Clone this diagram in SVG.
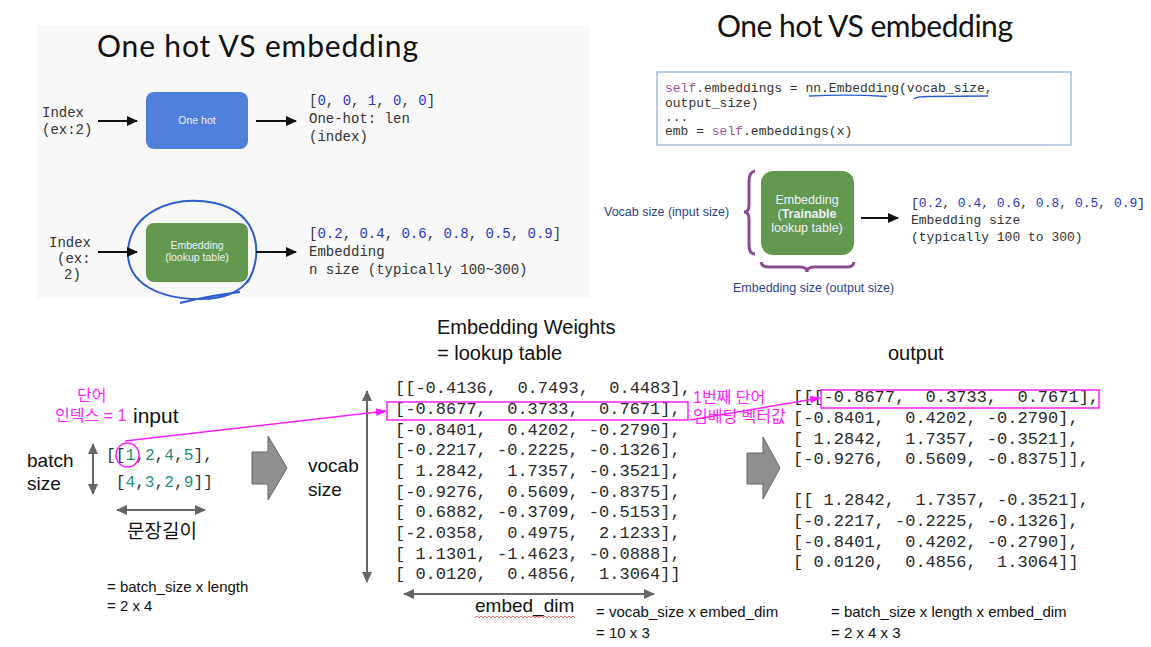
<svg xmlns="http://www.w3.org/2000/svg" width="1151" height="647" viewBox="0 0 1151 647">
<style>
.title{font-family:Lato,"Open Sans",sans-serif;font-size:30px;fill:#111}
.mono{font-family:"Liberation Mono","DejaVu Sans Mono",monospace}
.m14{font-size:14px;fill:#333}
.m13{font-size:13px;fill:#333}
.m17{font-size:17px;fill:#2a2a2a;font-family:"Liberation Mono","DejaVu Sans Mono",monospace;white-space:pre}
.num{fill:#2a35c8}
.teal{fill:#1f8f7d}
.self{fill:#a0529a}
.sans{font-family:"Liberation Sans",Arial,sans-serif}
.box{font-family:"Liberation Sans",Arial,sans-serif;fill:#eef2fa;text-anchor:middle}
.lbl{font-family:"Liberation Sans",Arial,sans-serif;font-size:19px;fill:#111}
.eq{font-family:"Liberation Sans",Arial,sans-serif;font-size:15px;fill:#111}
.kr{font-family:"Liberation Sans","Noto Sans CJK KR",sans-serif;font-size:16px;fill:#ff1eff}
.blk{stroke:#111;stroke-width:2;fill:none}
.gry{stroke:#666;stroke-width:2;fill:none}
.mag{stroke:#ff1eff;stroke-width:1.5;fill:none}
.blockarrow{fill:#8f8f8f;stroke:#666;stroke-width:1}
</style>
<defs>
<marker id="ahBlack" markerUnits="userSpaceOnUse" markerWidth="12" markerHeight="12" refX="10" refY="6" orient="auto"><path d="M0,1 L11,6 L0,11 Z" fill="#111"/></marker>
<marker id="ahGray" markerUnits="userSpaceOnUse" markerWidth="12" markerHeight="12" refX="10" refY="6" orient="auto-start-reverse"><path d="M0,1 L11,6 L0,11 Z" fill="#666"/></marker>
<marker id="ahMag" markerUnits="userSpaceOnUse" markerWidth="12" markerHeight="12" refX="10" refY="6" orient="auto"><path d="M0,2 L11,6 L0,10 Z" fill="#ff1eff"/></marker>
</defs>

<!-- top-left panel background -->
<rect x="37" y="25" width="553" height="273" fill="#f8f8f8"/>
<text class="title" x="97" y="57" font-size="31" textLength="321">One hot VS embedding</text>

<g id="onehot-input">
<text class="mono m14" x="42" y="117">Index</text>
<text class="mono m14" x="42" y="134">(ex:2)</text>
</g>
<g id="onehot-box">
<rect x="146" y="92" width="102" height="57" rx="8" fill="#4f80dc"/>
<text class="box" x="197" y="124" font-size="10.5">One hot</text>
</g>
<g id="onehot-output">
<text class="mono m14" x="309" y="105">[<tspan class="num">0</tspan>, <tspan class="num">0</tspan>, <tspan class="num">1</tspan>, <tspan class="num">0</tspan>, <tspan class="num">0</tspan>]</text>
<text class="mono m14" x="309" y="123">One-hot: len</text>
<text class="mono m14" x="309" y="141">(index)</text>
</g>

<g id="emb-input">
<text class="mono m14" x="49" y="247">Index</text>
<text class="mono m14" x="57" y="263">(ex:</text>
<text class="mono m14" x="64" y="279">2)</text>
</g>
<g id="emb-box">
<rect x="146" y="223" width="102" height="59" rx="8" fill="#62994f"/>
<text class="box" x="197" y="249" font-size="10.5">Embedding</text>
<text class="box" x="197" y="261" font-size="10.5">(lookup table)</text>
<path d="M247,283 C263,258 262,214 215,203 C170,194 131,214 128,250 C126,284 160,299 200,299 C224,299 240,293 249,279 M180,303 C200,298 222,294 240,292" fill="none" stroke="#2c5ccf" stroke-width="2"/>
</g>
<g id="emb-output">
<text class="mono m14" x="309" y="238">[<tspan class="num">0.2</tspan>, <tspan class="num">0.4</tspan>, <tspan class="num">0.6</tspan>, <tspan class="num">0.8</tspan>, <tspan class="num">0.5</tspan>, <tspan class="num">0.9</tspan>]</text>
<text class="mono m14" x="309" y="256">Embedding</text>
<text class="mono m14" x="309" y="274">n size (typically 100~300)</text>
</g>

<!-- top-right -->
<text class="title" x="717" y="37" font-size="29" textLength="296">One hot VS embedding</text>
<g id="code">
<rect x="657" y="72" width="414" height="73" fill="#fff" stroke="#8eaad6" stroke-width="1.2"/>
<text class="mono m13" x="665" y="92"><tspan class="self">self</tspan>.embeddings = nn.Embedding(vocab_size,</text>
<text class="mono m13" x="665" y="107">output_size)</text>
<text class="mono m13" x="665" y="121">...</text>
<text class="mono m13" x="665" y="135">emb = <tspan class="self">self</tspan>.embeddings(x)</text>
<path d="M809,96 Q850,94 887,96.5" fill="none" stroke="#2c5ccf" stroke-width="1.3"/>
<path d="M914,99 Q915,96.5 930,96.5 L988,96" fill="none" stroke="#2c5ccf" stroke-width="1.3"/>
</g>
<g id="vocab-label">
<text class="sans" x="604" y="216" font-size="12.5" fill="#2b3f8f">Vocab size (input size)</text>
<path d="M755,171 Q749,172 749,181 L749,205 Q749,212 744,212 Q749,212 749,219 L749,245 Q749,254 755,254" fill="none" stroke="#8b4a92" stroke-width="3"/>
</g>
<g id="trainable-box">
<rect x="761" y="171" width="93" height="84" rx="12" fill="#62994f"/>
<text class="box" x="807" y="204" font-size="12.5">Embedding</text>
<text class="box" x="807" y="218" font-size="12.5">(<tspan font-weight="bold">Trainable</tspan></text>
<text class="box" x="807" y="232" font-size="12.5">lookup table)</text>
</g>
<g id="embsize-label">
<path d="M761,262 Q762,267 768,267 L800,267 Q807,267 807,272 Q807,267 814,267 L848,267 Q853,267 854,262" fill="none" stroke="#8b4a92" stroke-width="3"/>
<text class="sans" x="733" y="292" font-size="12.5" fill="#2b3f8f">Embedding size (output size)</text>
</g>
<g id="trainable-output">
<text class="mono m13" x="911" y="207">[<tspan class="num">0.2</tspan>, <tspan class="num">0.4</tspan>, <tspan class="num">0.6</tspan>, <tspan class="num">0.8</tspan>, <tspan class="num">0.5</tspan>, <tspan class="num">0.9</tspan>]</text>
<text class="mono m13" x="911" y="224">Embedding size</text>
<text class="mono m13" x="911" y="241">(typically 100 to 300)</text>
</g>

<!-- bottom section -->
<g id="input">
<text class="kr" x="77" y="401">단어</text>
<text class="kr" x="55" y="421">인덱스 = 1</text>
<text class="sans" x="133" y="423" font-size="21" fill="#111">input</text>
<text class="lbl" x="27" y="467">batch</text>
<text class="lbl" x="27" y="490">size</text>
<text class="mono" x="106" y="460" font-size="16.2" fill="#333">[[<tspan class="teal">1</tspan>,<tspan class="teal">2</tspan>,<tspan class="teal">4</tspan>,<tspan class="teal">5</tspan>],</text>
<text class="mono" x="115.7" y="487" font-size="16.2" fill="#333">[<tspan class="teal">4</tspan>,<tspan class="teal">3</tspan>,<tspan class="teal">2</tspan>,<tspan class="teal">9</tspan>]]</text>
<ellipse cx="127.5" cy="455" rx="11.5" ry="12" class="mag"/>
<text class="sans" x="127" y="538" font-size="19" fill="#111" style="font-family:'Liberation Sans','Noto Sans CJK KR',sans-serif">문장길이</text>
<text class="eq" x="107" y="592">= batch_size x length</text>
<text class="eq" x="107" y="611">= 2 x 4</text>
</g>

<g id="weights">
<text class="sans" x="437" y="334" font-size="20" fill="#111">Embedding Weights</text>
<text class="sans" x="437" y="360" font-size="20" fill="#111">= lookup table</text>
<text class="lbl" x="308" y="472">vocab</text>
<text class="lbl" x="308" y="496">size</text>
<text class="m17" xml:space="preserve" x="395" y="393">[[-0.4136,  0.7493,  0.4483],</text>
<text class="m17" xml:space="preserve" x="395" y="414">[-0.8677,  0.3733,  0.7671],</text>
<text class="m17" xml:space="preserve" x="395" y="434.5">[-0.8401,  0.4202, -0.2790],</text>
<text class="m17" xml:space="preserve" x="395" y="455">[-0.2217, -0.2225, -0.1326],</text>
<text class="m17" xml:space="preserve" x="395" y="476">[ 1.2842,  1.7357, -0.3521],</text>
<text class="m17" xml:space="preserve" x="395" y="496.5">[-0.9276,  0.5609, -0.8375],</text>
<text class="m17" xml:space="preserve" x="395" y="517">[ 0.6882, -0.3709, -0.5153],</text>
<text class="m17" xml:space="preserve" x="395" y="538">[-2.0358,  0.4975,  2.1233],</text>
<text class="m17" xml:space="preserve" x="395" y="558.5">[ 1.1301, -1.4623, -0.0888],</text>
<text class="m17" xml:space="preserve" x="395" y="579">[ 0.0120,  0.4856,  1.3064]]</text>
<rect x="387" y="402" width="301" height="18" class="mag"/>
<text class="sans" x="475" y="612" font-size="19" fill="#111">embed_dim</text>
<path d="M475,618 l2,-2 l2,2 l2,-2 l2,2 l2,-2 l2,2 l2,-2 l2,2 l2,-2 l2,2 l2,-2 l2,2 l2,-2 l2,2 l2,-2 l2,2 l2,-2 l2,2 l2,-2 l2,2 l2,-2 l2,2 l2,-2 l2,2 l2,-2 l2,2 l2,-2 l2,2 l2,-2 l2,2 l2,-2 l2,2 l2,-2 l2,2 l2,-2 l2,2 l2,-2 l2,2 l2,-2 l2,2 l2,-2 l2,2 l2,-2 l2,2 l2,-2 l2,2 l2,-2 l2,2 l2,-2 l2,2" fill="none" stroke="#e04040" stroke-width="0.8"/>
<text class="eq" x="596" y="617">= vocab_size x embed_dim</text>
<text class="eq" x="596" y="638">= 10 x 3</text>
</g>

<g id="output">
<text class="sans" x="888" y="360" font-size="20" fill="#111">output</text>
<text class="kr" x="693" y="403">1번째 단어</text>
<text class="kr" x="693" y="422">임베딩 벡터값</text>
<text class="m17" xml:space="preserve" x="793" y="402">[[[-0.8677,  0.3733,  0.7671],</text>
<text class="m17" xml:space="preserve" x="793" y="423">[-0.8401,  0.4202, -0.2790],</text>
<text class="m17" xml:space="preserve" x="793" y="443.5">[ 1.2842,  1.7357, -0.3521],</text>
<text class="m17" xml:space="preserve" x="793" y="464">[-0.9276,  0.5609, -0.8375]],</text>
<text class="m17" xml:space="preserve" x="793" y="505">[[ 1.2842,  1.7357, -0.3521],</text>
<text class="m17" xml:space="preserve" x="793" y="526">[-0.2217, -0.2225, -0.1326],</text>
<text class="m17" xml:space="preserve" x="793" y="546.5">[-0.8401,  0.4202, -0.2790],</text>
<text class="m17" xml:space="preserve" x="793" y="567">[ 0.0120,  0.4856,  1.3064]]</text>
<rect x="821" y="390" width="278" height="18" class="mag"/>
<text class="eq" x="831" y="617">= batch_size x length x embed_dim</text>
<text class="eq" x="831" y="638">= 2 x 4 x 3</text>
</g>

<g id="connectors">
<line x1="98" y1="121" x2="137" y2="121" class="blk" marker-end="url(#ahBlack)"/>
<line x1="256" y1="121" x2="296" y2="121" class="blk" marker-end="url(#ahBlack)"/>
<line x1="98" y1="252" x2="137" y2="252" class="blk" marker-end="url(#ahBlack)"/>
<line x1="256" y1="252" x2="296" y2="252" class="blk" marker-end="url(#ahBlack)"/>
<line x1="861" y1="218" x2="898" y2="218" class="blk" marker-end="url(#ahBlack)"/>
<line x1="93" y1="444" x2="93" y2="494" class="gry" marker-start="url(#ahGray)" marker-end="url(#ahGray)"/>
<line x1="117" y1="510" x2="205" y2="510" class="gry" marker-start="url(#ahGray)" marker-end="url(#ahGray)"/>
<line x1="367" y1="391" x2="367" y2="582" class="gry" marker-start="url(#ahGray)" marker-end="url(#ahGray)"/>
<line x1="404" y1="594" x2="654" y2="594" class="gry" marker-start="url(#ahGray)" marker-end="url(#ahGray)"/>
<polygon class="blockarrow" points="252,452 268,452 268,436 287,468 268,500 268,484 252,484"/>
<polygon class="blockarrow" points="747,453 763,453 763,437 780,468 763,499 763,484 747,484"/>
<line x1="125" y1="441" x2="386" y2="411" class="mag" marker-end="url(#ahMag)"/>
<line x1="690" y1="420" x2="820" y2="398" class="mag" marker-end="url(#ahMag)"/>
</g>
</svg>
